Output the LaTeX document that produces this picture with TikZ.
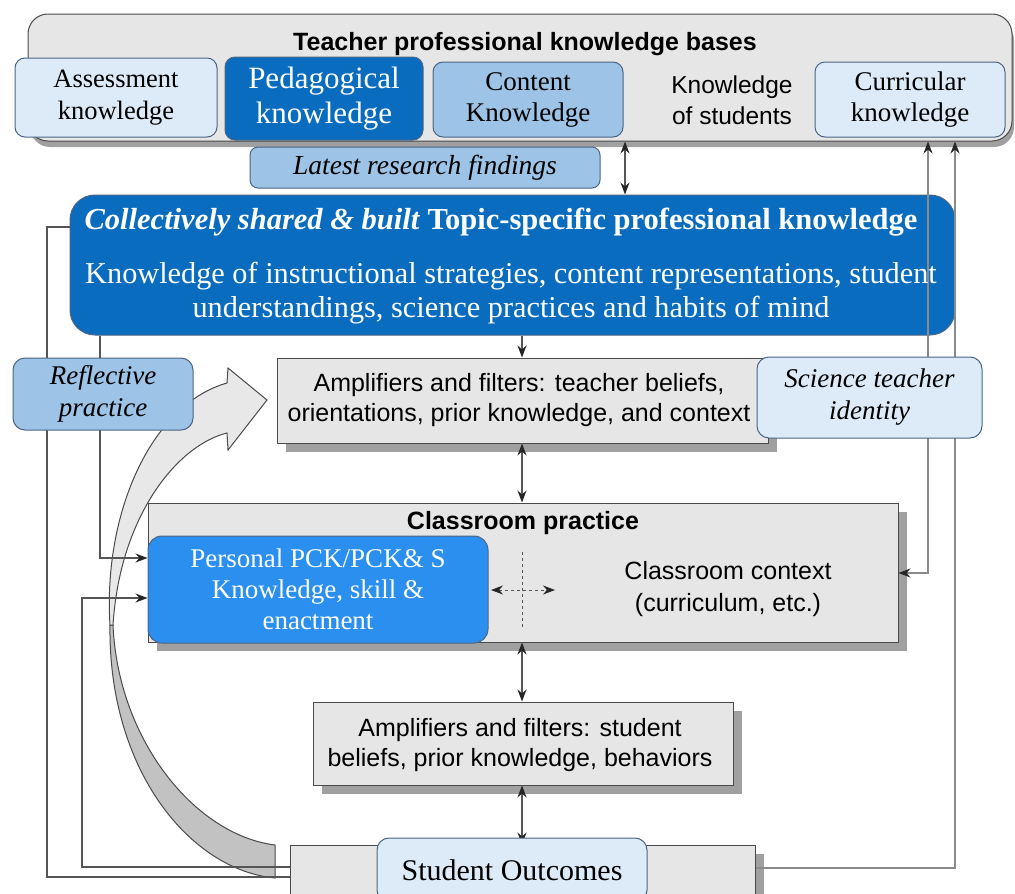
\documentclass[tikz,border=0pt]{standalone}
\usepackage{fontspec}
\setmainfont{Liberation Serif}
\setsansfont{Liberation Sans}
\usetikzlibrary{shadows,arrows.meta}
\definecolor{boxgray}{HTML}{E6E6E6}
\definecolor{shadowgray}{HTML}{A0A0A0}
\definecolor{lightblue}{HTML}{DDEAF7}
\definecolor{midblue}{HTML}{9DC3E6}
\definecolor{darkblue}{HTML}{0A6CBF}
\definecolor{brightblue}{HTML}{2B8FF0}
\definecolor{edgegray}{HTML}{4A4A4A}
\definecolor{edgeblue}{HTML}{4B6584}
\definecolor{linegray}{HTML}{555555}
\definecolor{lightline}{HTML}{8A8A8A}
\definecolor{curvelight}{HTML}{E8E8E8}
\definecolor{curvedark}{HTML}{C2C2C2}
\newcommand{\fsz}[2]{\fontsize{#1}{#2}\selectfont}
\begin{document}
\begin{tikzpicture}[x=1pt,y=-1pt,
  box/.style={draw=edgegray, line width=1pt, inner sep=0pt, align=center},
  bbox/.style={draw=edgeblue, line width=1pt, inner sep=0pt, align=center, rounded corners=10pt},
  shad/.style={drop shadow={shadow xshift=9pt, shadow yshift=-9pt, fill=shadowgray, opacity=1}},
  conn/.style={draw=linegray, line width=1.3pt},
  lconn/.style={draw=lightline, line width=1.6pt},
  tipend/.style={-{Stealth[length=12pt,width=9pt,color=black!85]}},
  tipboth/.style={{Stealth[length=12pt,width=9pt,color=black!85]}-{Stealth[length=12pt,width=9pt,color=black!85]}},
  sanstext/.style={font=\sffamily\fsz{25}{30}, align=center, inner sep=0pt},
]
\clip (0,0) rectangle (1015,894);

% helper coordinates
\coordinate (xA) at (625,0);
\coordinate (xB) at (522,0);
\coordinate (xR1) at (928,0);
\coordinate (xR2) at (955,0);
\coordinate (xL1) at (47,0);
\coordinate (xL2) at (82,0);
\coordinate (xL3) at (100,0);
\coordinate (y227) at (0,227);
\coordinate (y558) at (0,558);
\coordinate (y573) at (0,573);
\coordinate (y598) at (0,598);
\coordinate (y867) at (0,867);
\coordinate (y868) at (0,868);
\coordinate (y877) at (0,877);
\coordinate (dv1) at (522,552);
\coordinate (dv2) at (522,628);
\coordinate (dh1) at (491,590);
\coordinate (dh2) at (555,590);

% curved (twisted) arrow
\path[draw=edgegray, line width=1pt, fill=curvedark]
  (110,625) .. controls (108,770) and (190,870) .. (275,878) -- (275,845)
  .. controls (195,835) and (118,740) .. (113,625) -- cycle;
\path[draw=edgegray, line width=1pt, fill=curvelight]
  (110,625) .. controls (103,515) and (150,405) .. (227,383) -- (228,368) -- (267,400)
  -- (228,450) -- (227,433) .. controls (178,445) and (120,515) .. (113,625) -- cycle;

% ---------- boxes ----------
\node[box, fill=boxgray, rounded corners=20pt, minimum width=984pt, minimum height=127pt,
  drop shadow={shadow xshift=2pt, shadow yshift=-6pt, fill=shadowgray, opacity=1}] (tkb) at (520,77.5) {};

\node[box, fill=darkblue, draw=edgeblue, rounded corners=25pt, minimum width=885pt, minimum height=140pt] (big) at (512.5,265) {};

\node[box, fill=boxgray, minimum width=491pt, minimum height=85pt, shad] (ampT) at (522.5,400.5) {};
\node[box, fill=boxgray, minimum width=750pt, minimum height=139pt, shad] (class) at (523,572.5) {};
\node[box, fill=boxgray, minimum width=420pt, minimum height=83pt, shad] (ampS) at (523,743.5) {};
\node[box, fill=boxgray, minimum width=465pt, minimum height=60pt, shad] (soGray) at (522.5,875) {};

% ---------- connectors ----------
\draw[conn, tipboth] (tkb.south -| xA) -- (big.north -| xA);
\draw[conn, tipend] (big.south -| xB) -- (ampT.north -| xB);
\draw[conn, tipboth] (ampT.south -| xB) -- (class.north -| xB);
\draw[conn, tipboth] (class.south -| xB) -- (ampS.north -| xB);
\draw[conn, tipboth] (ampS.south -| xB) -- (soGray.north -| xB);

\draw[lconn, tipboth] (class.east |- y573) -| (tkb.south -| xR1);
\draw[lconn, tipend] (soGray.east |- y868) -| (tkb.south -| xR2);

\draw[conn] (big.west |- y227) -- (xL1 |- y227) -- (xL1 |- y877) -- (soGray.west |- y877);
\draw[conn, tipend] (big.south -| xL3) |- (class.west |- y558);
\draw[conn, tipend] (soGray.west |- y867) -- (xL2 |- y867) |- (class.west |- y598);

\draw[conn, dashed, line width=1pt] (dv1) -- (dv2);
\draw[conn, dashed, line width=1pt, tipboth] (dh1) -- (dh2);

% ---------- texts and foreground boxes ----------
\node[font=\sffamily\bfseries\fsz{25}{30}, inner sep=0pt] (tkbtitle) at (525,44) {Teacher professional knowledge bases};

\node[bbox, fill=lightblue, minimum width=202pt, minimum height=79pt, font=\fsz{26.5}{32}] (assess) at (116,97.5) {Assessment\\knowledge};
\node[bbox, fill=darkblue, text=white, minimum width=198pt, minimum height=83pt, font=\fsz{31}{35}] (ped) at (324,98.5) {Pedagogical\\knowledge};
\node[bbox, fill=midblue, minimum width=190pt, minimum height=75pt, font=\fsz{27}{31}] (content) at (528,99.5) {Content\\Knowledge};
\node[sanstext, font=\sffamily\fsz{24.5}{31}] (kstud) at (732,100) {Knowledge\\of students};
\node[bbox, fill=lightblue, minimum width=190pt, minimum height=75pt, font=\fsz{27}{31}] (curr) at (910,99.5) {Curricular\\knowledge};

\node[bbox, fill=midblue, minimum width=350pt, minimum height=41pt, rounded corners=8pt, font=\itshape\fsz{27.5}{31}] (latest) at (425,167.5) {Latest research findings};

\node[text=white, inner sep=0pt, font=\bfseries\fsz{30.5}{34}] (bigtitle) at (501,222) {\textit{Collectively shared \& built} Topic-specific professional knowledge};
\node[text=white, inner sep=0pt, align=center, font=\fsz{30.3}{34}] (bigbody) at (511,293) {Knowledge of instructional strategies, content representations, student\\understandings, science practices and habits of mind};

\node[sanstext] (ampTtext) at (519,400) {Amplifiers and filters: teacher beliefs,\\orientations, prior knowledge, and context};

\node[bbox, fill=lightblue, minimum width=225pt, minimum height=81pt, rounded corners=12pt, font=\itshape\fsz{27}{32}] (sci) at (869.5,397.5) {Science teacher\\identity};
\node[bbox, fill=midblue, minimum width=180pt, minimum height=72pt, rounded corners=12pt, font=\itshape\fsz{27}{32}] (refl) at (103,394) {Reflective\\practice};

\node[font=\sffamily\bfseries\fsz{25}{30}, inner sep=0pt] (classtitle) at (523,523) {Classroom practice};
\node[bbox, fill=brightblue, text=white, minimum width=340pt, minimum height=107pt, rounded corners=14pt, font=\fsz{27}{31}] (pck) at (318,589.5) {Personal PCK/PCK\& S\\Knowledge, skill \&\\enactment};
\node[sanstext, font=\sffamily\fsz{25}{32}] (ctx) at (728,589) {Classroom context\\(curriculum, etc.)};

\node[sanstext] (ampStext) at (520,745) {Amplifiers and filters: student\\beliefs, prior knowledge, behaviors};

\node[bbox, fill=lightblue, minimum width=270pt, minimum height=64pt, rounded corners=12pt, font=\fsz{30}{34}] (so) at (512,870) {Student Outcomes};
\end{tikzpicture}
\end{document}
